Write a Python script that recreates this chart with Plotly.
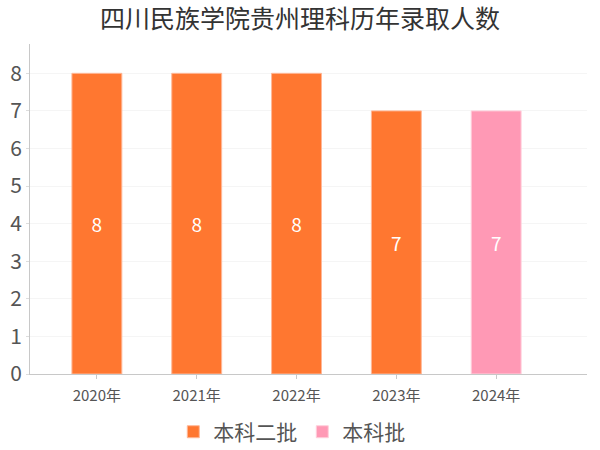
import plotly.graph_objects as go

years = ["2020年", "2021年", "2022年", "2023年", "2024年"]
batch2_years = ["2020年", "2021年", "2022年", "2023年"]
batch2_values = [8, 8, 8, 7]
batch_years = ["2024年"]
batch_values = [7]

font_family = "Noto Sans CJK SC, Noto Sans, sans-serif"

fig = go.Figure()
fig.add_trace(go.Bar(
    x=batch2_years, y=batch2_values, name="本科二批",
    marker=dict(color="#FF7730", line=dict(color="#FFB898", width=1)),
    width=0.5, text=[str(v) for v in batch2_values],
    textposition="inside", insidetextanchor="middle",
    textfont=dict(color="white", size=19, family=font_family),
))
fig.add_trace(go.Bar(
    x=batch_years, y=batch_values, name="本科批",
    marker=dict(color="#FF99B5", line=dict(color="#FFD0DC", width=1)),
    width=0.5, text=[str(v) for v in batch_values],
    textposition="inside", insidetextanchor="middle",
    textfont=dict(color="white", size=19, family=font_family),
))

fig.update_layout(
    width=600, height=450,
    barmode="overlay",
    paper_bgcolor="white", plot_bgcolor="white",
    margin=dict(l=30, r=13, t=44, b=76, autoexpand=False),
    title=dict(text="四川民族学院贵州理科历年录取人数", x=0.5, xanchor="center",
               y=0.958, yanchor="middle",
               font=dict(size=25, color="#333333", family=font_family)),
    font=dict(family=font_family, color="#555555"),
    showlegend=True,
    legend=dict(orientation="h", x=0.47, xanchor="center", y=-0.176, yanchor="middle",
                font=dict(size=21, color="#555555"), itemwidth=30,
                tracegroupgap=0, traceorder="normal"),
)
fig.update_xaxes(
    type="category", categoryorder="array", categoryarray=years,
    range=[-0.67, 4.91], automargin=False,
    showline=True, linecolor="#c8c8c8", linewidth=1,
    ticks="outside", ticklen=4, tickcolor="#c8c8c8", ticklabelstandoff=4,
    tickfont=dict(size=15, color="#555555"),
    showgrid=False, zeroline=False,
)
fig.update_yaxes(
    range=[0, 8.78], dtick=1, automargin=False,
    showline=True, linecolor="#c8c8c8", linewidth=1,
    ticks="outside", ticklen=3, tickcolor="#dddddd",
    tickfont=dict(size=21, color="#555555"),
    showgrid=True, gridcolor="#f5f5f5", zeroline=False,
)

fig.write_html("out.html", config={"displayModeBar": False},
               post_script="document.body.style.margin='0';document.body.style.overflow='hidden';")
